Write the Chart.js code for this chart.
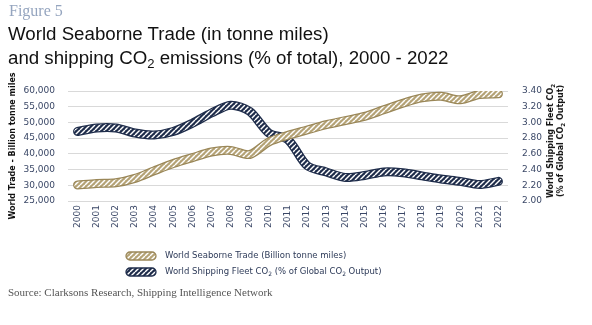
<!DOCTYPE html>
<html>
<head>
<meta charset="utf-8">
<script src="https://cdn.jsdelivr.net/npm/chart.js@4.4.1/dist/chart.umd.min.js"></script>
<style>
  body { margin: 0; background: #fff; width: 592px; height: 325px; overflow: hidden; position: relative; }
  #chart { position: absolute; left: 0; top: 0; }
  .txt { position: absolute; white-space: nowrap; }
  #fig { left: 9px; top: 2px; font: 16px "Liberation Serif", serif; color: #95a5bf; }
  .ttl { left: 8px; font: 18.7px "Liberation Sans", Arial, sans-serif; color: #111; line-height: 20px; }
  #src { left: 8px; top: 286px; font: 11px "Liberation Serif", serif; color: #555; }
  #rtitle { left: 556px; top: 141px; font: bold 8px "DejaVu Sans", sans-serif; color: #111;
            transform: translate(-50%, -50%) rotate(-90deg); text-align: center; line-height: 10px; }
  .leg { left: 125px; font: 8.5px "DejaVu Sans", sans-serif; color: #2d3a58; }
  .leg canvas { vertical-align: middle; margin-right: 8px; }
  sub { font-size: 70%; vertical-align: -0.3em; line-height: 0; }
</style>
</head>
<body>
<canvas id="chart" width="592" height="325"></canvas>
<div class="txt" id="fig">Figure 5</div>
<div class="txt ttl" style="top:24px">World Seaborne Trade (in tonne miles)</div>
<div class="txt ttl" style="top:48px">and shipping CO<sub>2</sub> emissions (% of total), 2000 - 2022</div>
<div class="txt" id="rtitle">World Shipping Fleet CO<sub>2</sub><br>(% of Global CO<sub>2</sub> Output)</div>
<div class="txt leg" style="top:250px"><canvas id="sw1" width="32" height="10"></canvas>World Seaborne Trade (Billion tonne miles)</div>
<div class="txt leg" style="top:266px"><canvas id="sw2" width="32" height="10"></canvas>World Shipping Fleet CO<sub>2</sub> (% of Global CO<sub>2</sub> Output)</div>
<div class="txt" id="src">Source: Clarksons Research, Shipping Intelligence Network</div>
<script>
var years = ['2000','2001','2002','2003','2004','2005','2006','2007','2008','2009','2010','2011',
             '2012','2013','2014','2015','2016','2017','2018','2019','2020','2021','2022'];
// World Seaborne Trade, billion tonne miles
var trade = [30100,30600,30800,32200,34600,36900,38800,40600,41100,39800,43800,45900,
             47600,49300,50600,51900,54000,56100,57800,58300,57200,58900,59100];
// World shipping fleet CO2, % of global CO2 output
var co2 = [2.885,2.93,2.93,2.865,2.84,2.885,2.99,3.12,3.22,3.14,2.865,2.78,
           2.45,2.37,2.30,2.325,2.37,2.36,2.32,2.28,2.25,2.21,2.25];

var gold = '#b5a376';
var goldDark = '#9a8758';
var navy = '#1f2d4b';

function makePattern(ctx, color) {
    var c = document.createElement('canvas');
    c.width = 5; c.height = 5;
    var x = c.getContext('2d');
    x.fillStyle = color;
    x.fillRect(0, 0, 5, 5);
    x.strokeStyle = '#ffffff';
    x.lineWidth = 1.4;
    for (var k = -5; k <= 5; k += 5) {
        x.beginPath();
        x.moveTo(k, 5);
        x.lineTo(k + 5, 0);
        x.stroke();
    }
    return ctx.createPattern(c, 'repeat');
}

function swatch(id, color, edge) {
    var cv = document.getElementById(id);
    var x = cv.getContext('2d');
    x.beginPath();
    x.moveTo(5, 1); x.lineTo(27, 1);
    x.arc(27, 5, 4, -Math.PI / 2, Math.PI / 2);
    x.lineTo(5, 9);
    x.arc(5, 5, 4, Math.PI / 2, Math.PI * 1.5);
    x.closePath();
    x.fillStyle = makePattern(x, color);
    x.fill();
    x.strokeStyle = edge;
    x.lineWidth = 1.3;
    x.stroke();
}
swatch('sw1', gold, goldDark);
swatch('sw2', navy, navy);

var ctx = document.getElementById('chart').getContext('2d');
var tickFont = { family: 'DejaVu Sans', size: 9 };

new Chart(ctx, {
    type: 'line',
    data: {
        labels: years,
        datasets: [
            { data: trade, yAxisID: 'y', borderColor: makePattern(ctx, gold), borderWidth: 6.5, order: 0 },
            { data: trade, yAxisID: 'y', borderColor: goldDark, borderWidth: 9, order: 1 },
            { data: co2, yAxisID: 'y1', borderColor: makePattern(ctx, navy), borderWidth: 6.5, order: 2 },
            { data: co2, yAxisID: 'y1', borderColor: navy, borderWidth: 9, order: 3 }
        ]
    },
    options: {
        responsive: false,
        animation: false,
        layout: { padding: { left: 0, right: 0, top: 91, bottom: 94 } },
        elements: {
            point: { radius: 0 },
            line: { tension: 0.3, fill: false, borderCapStyle: 'round', borderJoinStyle: 'round' }
        },
        plugins: { legend: { display: false }, tooltip: { enabled: false } },
        scales: {
            x: {
                offset: true,
                grid: { display: false, drawTicks: false, tickLength: 0 },
                border: { display: false },
                ticks: { font: tickFont, color: '#3a4766', minRotation: 90, maxRotation: 90, padding: 4 },
                afterFit: function (s) { s.height = 30; }
            },
            y: {
                position: 'left',
                min: 25000, max: 60000,
                grid: { color: '#d9d9d9', drawTicks: false },
                border: { display: false },
                ticks: {
                    stepSize: 5000, padding: 13, font: tickFont, color: '#3a4766',
                    callback: function (v) { return v.toLocaleString('en-US'); }
                },
                title: {
                    display: true, text: 'World Trade - Billion tonne miles', color: '#111',
                    font: { family: 'DejaVu Sans', size: 8, weight: 'bold' }, padding: { top: 8, bottom: 0 }
                },
                afterFit: function (s) { s.width = 68; }
            },
            y1: {
                position: 'right',
                min: 2.0, max: 3.4,
                grid: { display: false, drawTicks: false },
                border: { display: false },
                ticks: {
                    stepSize: 0.2, padding: 14, font: tickFont, color: '#3a4766',
                    callback: function (v) { return v.toFixed(2); }
                },
                afterFit: function (s) { s.width = 84; }
            }
        }
    }
});
</script>
</body>
</html>
